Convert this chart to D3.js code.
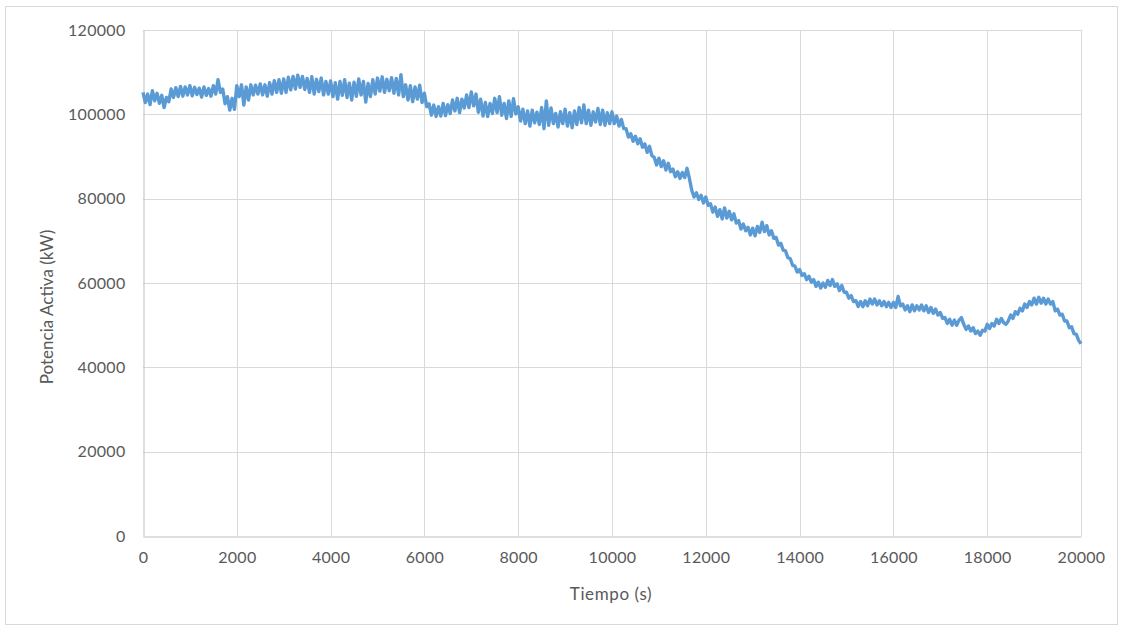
<!DOCTYPE html>
<html>
<head>
<meta charset="utf-8">
<script src="https://cdn.jsdelivr.net/npm/d3@7"></script>
<style>
  html, body { margin: 0; padding: 0; background: #fff; }
  svg { display: block; }
  text { font-family: Lato, "Open Sans", sans-serif; fill: #595959; }
</style>
</head>
<body>
<svg id="chart" width="1123" height="630"></svg>
<script>
// ---- data ----
const sampleStep = 50; // seconds between samples
const xTicks = [0, 2000, 4000, 6000, 8000, 10000, 12000, 14000, 16000, 18000, 20000];
const yTicks = [0, 20000, 40000, 60000, 80000, 100000, 120000];
const xTitle = "Tiempo (s)";
const yTitle = "Potencia Activa (kW)";
// active power (kW), one row per 1000 s
const power00 = [105200,102800,104800,102300,105600,103200,105000,102600,104500,101600,104000,103000,106000,104000,106300,104200,106600,104300,106500,104600];
const power01 = [106800,104400,106400,104700,106200,104100,106500,104500,106100,104300,106800,104800,108200,105200,106000,102500,104200,101000,103800,101200];
const power02 = [106800,104200,107000,102200,106500,103400,107000,104600,106900,104800,107200,104600,107000,104300,107500,104800,108000,105200,108200,105000];
const power03 = [108400,105200,108800,105800,109000,106000,109300,106400,109000,105900,108500,105200,108900,104800,108300,105400,108600,104600,107800,104800];
const power04 = [107900,104200,107500,103600,107800,104500,108200,104000,107400,103400,107600,104300,108400,104600,107800,102900,107300,104200,108200,104800];
const power05 = [108600,105500,108900,105200,108300,105600,108700,105000,108500,104600,109400,104200,107000,103400,106800,103000,106500,103600,106900,102800];
const power06 = [105000,101800,102500,99800,102200,99500,101800,99600,102600,99700,102300,100200,103400,100800,103800,100400,103600,101500,104600,101600];
const power07 = [105300,102000,104800,100500,103600,99600,102800,99500,102600,100200,103800,100400,104200,99800,102600,99000,103200,99500,103700,100100];
const power08 = [101800,98400,101200,97800,100800,97200,101000,98000,100500,97600,101600,96600,103200,97400,101500,97800,100200,97000,100600,97800];
const power09 = [101200,97200,100400,96800,100800,97600,101600,98000,102200,97800,101000,97400,100600,98200,101400,97600,101000,97400,100400,97800];
const power10 = [100600,97800,99600,97200,98800,96600,96600,94600,95400,93600,94800,93000,94200,92200,93000,91000,92400,90200,89800,88000];
const power11 = [89600,87600,89000,86800,88400,86400,87000,85200,86400,84800,86200,85000,87200,84800,82000,80400,81400,79800,80800,79000];
const power12 = [80400,78400,78800,76800,78000,75800,77400,75200,77800,75400,77000,75000,76400,74200,74800,72800,74000,72400,73200,71400];
const power13 = [73000,71200,73400,72000,74400,72200,73600,71400,72400,70600,70800,69000,69400,67800,67600,66000,65800,64200,64000,62600];
const power14 = [63200,61800,62200,60800,61600,60200,60800,59200,60200,58800,60000,59000,60600,59400,60800,59200,59800,58200,59400,57800];
const power15 = [57800,56400,57000,55600,55800,54400,55600,54400,55800,54600,56200,55000,56200,54800,55800,54600,55600,54400,55400,54200];
const power16 = [55400,54200,56800,54600,55000,53600,54600,53200,54800,53400,54600,53600,54800,53400,54600,53000,54200,52800,53800,52400];
const power17 = [53000,51600,51800,50400,51400,50000,51200,50000,51200,51800,50200,49000,49800,48600,49400,48000,48600,47600,48800,48600];
const power18 = [50200,49200,50400,49800,51400,50400,51600,50600,50200,51000,52400,51600,53200,52600,54000,53400,55000,54200,55600,54800];
const power19 = [56400,55000,56600,55200,56400,55000,56200,55000,55600,53400,53800,52400,52600,51000,51000,49400,49600,48000,47800,46400];
const powerEnd = [45600];

const power = [].concat(power00,power01,power02,power03,power04,power05,power06,power07,power08,power09,
                        power10,power11,power12,power13,power14,power15,power16,power17,power18,power19,powerEnd);
const series = power.map((v, i) => ({ t: i * sampleStep, v }));

// ---- layout ----
const svg = d3.select("#chart");
const plot = { left: 143, right: 1081, top: 30, bottom: 536 };

// outer border
svg.append("rect").attr("x", 5.5).attr("y", 6.5).attr("width", 1112).attr("height", 618)
  .attr("fill", "#fff").attr("stroke", "#D9D9D9").attr("stroke-width", 1);

const x = d3.scaleLinear().domain([0, 20000]).range([plot.left, plot.right]);
const y = d3.scaleLinear().domain([0, 120000]).range([plot.bottom, plot.top]);

// gridlines
const grid = svg.append("g");
grid.selectAll(".vg").data(xTicks.filter(d => d > 0)).enter().append("line")
  .attr("x1", d => Math.round(x(d)) + 0.5).attr("x2", d => Math.round(x(d)) + 0.5)
  .attr("y1", plot.top).attr("y2", plot.bottom)
  .attr("stroke", "#D9D9D9").attr("stroke-width", 1);
grid.selectAll(".hg").data(yTicks.filter(d => d > 0)).enter().append("line")
  .attr("y1", d => Math.round(y(d)) + 0.5).attr("y2", d => Math.round(y(d)) + 0.5)
  .attr("x1", plot.left).attr("x2", plot.right)
  .attr("stroke", "#D9D9D9").attr("stroke-width", 1);

// axes
const xAxis = d3.axisBottom(x).tickValues(xTicks).tickSize(0).tickPadding(15).tickFormat(d3.format("d"));
const yAxis = d3.axisLeft(y).tickValues(yTicks).tickSize(0).tickPadding(18).tickFormat(d3.format("d"));

const gx = svg.append("g").attr("transform", `translate(0,${Math.round(plot.bottom) + 0.5})`).call(xAxis);
const gy = svg.append("g").attr("transform", `translate(${Math.round(plot.left) + 0.5},0)`).call(yAxis);
[gx, gy].forEach(g => {
  g.select(".domain").attr("stroke", "#BFBFBF").attr("stroke-width", 1);
  g.selectAll("text").attr("font-family", "Lato, sans-serif").attr("font-size", 16)
    .attr("letter-spacing", 0.3).attr("fill", "#595959");
});

// line
const line = d3.line().x(d => x(d.t)).y(d => y(d.v));
svg.append("path").datum(series)
  .attr("d", line)
  .attr("fill", "none")
  .attr("stroke", "#5B9BD5")
  .attr("stroke-width", 3.4)
  .attr("stroke-linejoin", "round");

// titles
svg.append("text").attr("x", 611).attr("y", 600).attr("text-anchor", "middle")
  .attr("font-size", 17).attr("letter-spacing", 0.6).text(xTitle);
svg.append("text").attr("transform", "translate(53,307) rotate(-90)").attr("text-anchor", "middle")
  .attr("font-size", 17).text(yTitle);
</script>
</body>
</html>
